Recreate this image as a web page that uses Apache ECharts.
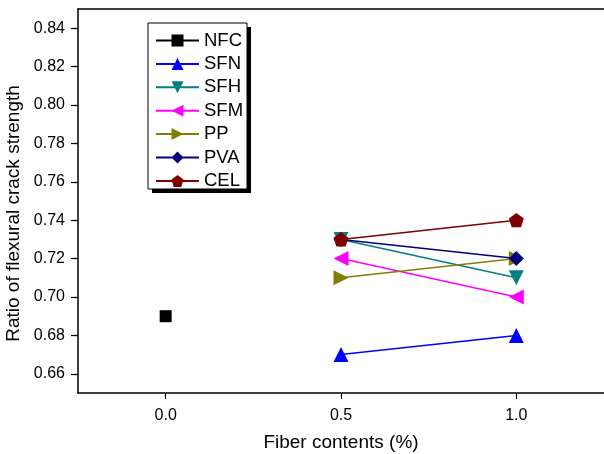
<!DOCTYPE html>
<html>
<head>
<meta charset="utf-8">
<script src="https://cdn.jsdelivr.net/npm/echarts@6/dist/echarts.min.js"></script>
<style>
  html, body { margin: 0; padding: 0; background: #fff; }
  #main { width: 604px; height: 454px; }
</style>
</head>
<body>
<div id="main"></div>
<script>
// fiber contents (%) and ratio values
var names = ['NFC', 'SFN', 'SFH', 'SFM', 'PP', 'PVA', 'CEL'];
var colors = ['#000000', '#0000ff', '#008080', '#ff00ff', '#808000', '#000080', '#800000'];
var xNFC = [0.0];
var xFib = [0.5, 1.0];
var nfc = [0.69];
var sfn = [0.67, 0.68];
var sfh = [0.73, 0.71];
var sfm = [0.72, 0.70];
var pp = [0.71, 0.72];
var pva = [0.73, 0.72];
var cel = [0.73, 0.74];
var xTicks = [0.0, 0.5, 1.0];
var yTicks = [0.66, 0.68, 0.70, 0.72, 0.74, 0.76, 0.78, 0.80, 0.82, 0.84];

var pentagon = 'path://M0,-10 L9.51,-3.09 L5.88,8.09 L-5.88,8.09 L-9.51,-3.09 Z';

function pts(xs, ys) {
  return xs.map(function (x, i) { return [x, ys[i]]; });
}

var symbols = [
  { symbol: 'rect', size: 12, rotate: 0 },
  { symbol: 'triangle', size: 15, rotate: 0 },
  { symbol: 'triangle', size: 15, rotate: 180 },
  { symbol: 'triangle', size: 15, rotate: 90 },
  { symbol: 'triangle', size: 15, rotate: -90 },
  { symbol: 'diamond', size: 15, rotate: 0 },
  { symbol: pentagon, size: 15, rotate: 0 }
];
var data = [pts(xNFC, nfc), pts(xFib, sfn), pts(xFib, sfh), pts(xFib, sfm),
            pts(xFib, pp), pts(xFib, pva), pts(xFib, cel)];

var series = names.map(function (n, i) {
  return {
    name: n,
    type: 'line',
    data: data[i],
    symbol: symbols[i].symbol,
    symbolSize: symbols[i].size,
    symbolRotate: symbols[i].rotate,
    symbolKeepAspect: true,
    showAllSymbol: true,
    color: colors[i],
    lineStyle: { color: colors[i], width: 1.5 },
    itemStyle: { color: colors[i], borderWidth: 0 },
    animation: false,
    z: 2 + i
  };
});

var chart = echarts.init(document.getElementById('main'));
chart.setOption({
  animation: false,
  textStyle: { fontFamily: 'Liberation Sans, Arial, sans-serif' },
  grid: { left: 78, top: 9, width: 526, height: 384, show: false, outerBoundsMode: 'none', containLabel: false },
  // legend frame with its hard black drop shadow
  graphic: [
    { type: 'rect', z: 3, shape: { x: 152, y: 27, width: 99, height: 166 }, style: { fill: '#000' } },
    { type: 'rect', z: 3, shape: { x: 148, y: 23, width: 99, height: 166 }, style: { fill: '#fff', stroke: '#000', lineWidth: 1 } }
  ],
  legend: {
    orient: 'vertical',
    left: 155,
    top: 31,
    padding: 0,
    z: 5,
    itemWidth: 43,
    itemHeight: 15,
    itemGap: 4.4,
    textStyle: { fontSize: 18.5, color: '#000' },
    data: names
  },
  xAxis: [{
    type: 'value',
    position: 'bottom',
    min: -0.25,
    max: 1.25,
    interval: 0.5,
    name: 'Fiber contents (%)',
    nameLocation: 'middle',
    nameGap: 40,
    nameTextStyle: { fontSize: 19, color: '#000' },
    axisLine: { show: true, onZero: false, lineStyle: { color: '#000', width: 1.5 } },
    axisTick: { show: true, inside: false, length: 6, lineStyle: { color: '#000', width: 1.2 }, customValues: xTicks },
    axisLabel: { fontSize: 16, color: '#000', margin: 15, customValues: xTicks,
      formatter: function (v) { return v.toFixed(1); } },
    splitLine: { show: false }
  }, {
    type: 'value',
    position: 'top',
    min: -0.25,
    max: 1.25,
    axisLine: { show: true, onZero: false, lineStyle: { color: '#000', width: 1.5 } },
    axisTick: { show: false },
    axisLabel: { show: false },
    splitLine: { show: false }
  }],
  yAxis: {
    type: 'value',
    min: 0.65,
    max: 0.85,
    interval: 0.02,
    name: 'Ratio of flexural crack strength',
    nameLocation: 'middle',
    nameGap: 53,
    nameTextStyle: { fontSize: 19, color: '#000', padding: [0, 25, 0, 0] },
    axisLine: { show: true, onZero: false, lineStyle: { color: '#000', width: 1.5 } },
    axisTick: { show: true, inside: false, length: 7, lineStyle: { color: '#000', width: 1.2 }, customValues: yTicks },
    minorTick: { show: true, splitNumber: 2, length: 4, lineStyle: { color: '#000', width: 1.2 } },
    axisLabel: { fontSize: 16, color: '#000', margin: 13, customValues: yTicks,
      formatter: function (v) { return v.toFixed(2); } },
    splitLine: { show: false }
  },
  series: series
});
</script>
</body>
</html>
